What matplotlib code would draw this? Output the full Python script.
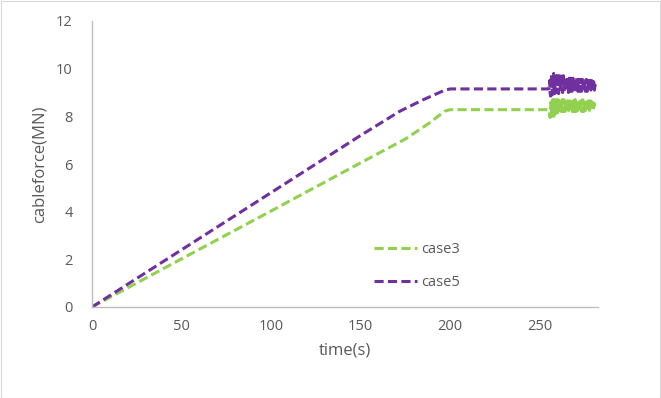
import matplotlib
matplotlib.use("Agg")
import matplotlib.pyplot as plt
from matplotlib.patches import Rectangle

plt.rcParams['font.family'] = ['Open Sans', 'DejaVu Sans']

# ramp + plateau knots
t3 = [0, 50, 100, 150, 175, 188, 197, 200, 255]
f3 = [0, 2.02, 4.03, 6.05, 7.05, 7.7, 8.22, 8.28, 8.28]
t5 = [0, 50, 100, 150, 172, 185, 197, 200, 255]
f5 = [0, 2.4, 4.8, 7.2, 8.22, 8.7, 9.1, 9.15, 9.15]

# oscillating tail (255.25 .. 281 s, every 0.25 s)
t_tail = [255.25, 255.5, 255.75, 256.0, 256.25, 256.5, 256.75, 257.0, 257.25, 257.5,
          257.75, 258.0, 258.25, 258.5, 258.75, 259.0, 259.25, 259.5, 259.75, 260.0,
          260.25, 260.5, 260.75, 261.0, 261.25, 261.5, 261.75, 262.0, 262.25, 262.5,
          262.75, 263.0, 263.25, 263.5, 263.75, 264.0, 264.25, 264.5, 264.75, 265.0,
          265.25, 265.5, 265.75, 266.0, 266.25, 266.5, 266.75, 267.0, 267.25, 267.5,
          267.75, 268.0, 268.25, 268.5, 268.75, 269.0, 269.25, 269.5, 269.75, 270.0,
          270.25, 270.5, 270.75, 271.0, 271.25, 271.5, 271.75, 272.0, 272.25, 272.5,
          272.75, 273.0, 273.25, 273.5, 273.75, 274.0, 274.25, 274.5, 274.75, 275.0,
          275.25, 275.5, 275.75, 276.0, 276.25, 276.5, 276.75, 277.0, 277.25, 277.5,
          277.75, 278.0, 278.25, 278.5, 278.75, 279.0, 279.25, 279.5, 279.75, 280.0,
          280.25, 280.5, 280.75, 281.0]
f3_tail = [8.25, 8.1, 7.95, 8.3, 8.6, 8.2, 7.95, 8.15, 8.7, 8.45,
           8.0, 8.2, 8.7, 8.6, 8.1, 8.2, 8.65, 8.7, 8.2, 8.15,
           8.6, 8.75, 8.3, 8.15, 8.5, 8.7, 8.35, 8.2, 8.45, 8.7,
           8.45, 8.2, 8.4, 8.7, 8.5, 8.2, 8.35, 8.65, 8.6, 8.2,
           8.3, 8.65, 8.6, 8.25, 8.25, 8.6, 8.65, 8.3, 8.2, 8.55,
           8.7, 8.35, 8.2, 8.45, 8.65, 8.45, 8.2, 8.4, 8.7, 8.5,
           8.2, 8.35, 8.65, 8.55, 8.25, 8.3, 8.6, 8.6, 8.25, 8.25,
           8.6, 8.65, 8.3, 8.2, 8.5, 8.7, 8.4, 8.2, 8.4, 8.65,
           8.5, 8.25, 8.3, 8.6, 8.6, 8.3, 8.25, 8.55, 8.65, 8.35,
           8.25, 8.45, 8.65, 8.45, 8.25, 8.35, 8.6, 8.55, 8.3, 8.3,
           8.55, 8.5, 8.35, 8.4]
f5_tail = [9.2, 9.5, 9.0, 8.85, 9.4, 9.75, 9.3, 8.9, 9.1, 9.7,
           9.8, 9.2, 8.95, 9.3, 9.75, 9.6, 9.0, 9.05, 9.65, 9.8,
           9.3, 8.95, 9.2, 9.7, 9.6, 9.05, 9.1, 9.6, 9.75, 9.2,
           9.0, 9.3, 9.7, 9.5, 9.05, 9.15, 9.65, 9.6, 9.1, 9.05,
           9.5, 9.65, 9.2, 9.0, 9.4, 9.6, 9.3, 9.05, 9.3, 9.6,
           9.45, 9.05, 9.2, 9.6, 9.5, 9.1, 9.1, 9.55, 9.55, 9.1,
           9.05, 9.5, 9.6, 9.2, 9.05, 9.4, 9.55, 9.3, 9.05, 9.3,
           9.55, 9.4, 9.05, 9.2, 9.55, 9.45, 9.1, 9.1, 9.5, 9.5,
           9.1, 9.05, 9.45, 9.55, 9.2, 9.05, 9.35, 9.5, 9.3, 9.05,
           9.3, 9.5, 9.4, 9.1, 9.2, 9.5, 9.45, 9.1, 9.15, 9.45,
           9.4, 9.1, 9.25, 9.35]

xticks = [0, 50, 100, 150, 200, 250]
yticks = [0, 2, 4, 6, 8, 10, 12]

green = '#92D050'
purple = '#7030A0'
tick_col = '#595959'
spine_col = '#BFBFBF'

fig = plt.figure(figsize=(6.61, 3.98), dpi=100)
fig.patches.append(Rectangle((0.5/661, 0.5/398), 1 - 1.5/661, 1 - 1.5/398,
                             transform=fig.transFigure, fill=False,
                             edgecolor='#D9D9D9', linewidth=0.8))
ax = fig.add_axes([92/661, 1 - 307/398, (598 - 92)/661, (307 - 21)/398])

lw = 2.2
dash = (3, 1.4)
ax.plot(t3 + t_tail, f3 + f3_tail, color=green, lw=lw, dashes=dash, label='case3')
ax.plot(t5 + t_tail, f5 + f5_tail, color=purple, lw=lw, dashes=dash, label='case5')

ax.set_xlim(0, 282.5)
ax.set_ylim(0, 12)
ax.set_xticks(xticks)
ax.set_yticks(yticks)
for s in ['top', 'right']:
    ax.spines[s].set_visible(False)
for s in ['left', 'bottom']:
    ax.spines[s].set_color(spine_col)
    ax.spines[s].set_linewidth(1.0)
ax.tick_params(axis='both', length=0, labelsize=10.5, colors=tick_col)
ax.tick_params(axis='y', pad=14)
ax.tick_params(axis='x', pad=9)

ax.set_xlabel('time(s)', fontsize=12, color=tick_col, labelpad=6)
ax.set_ylabel('cableforce(MN)', fontsize=12, color=tick_col, labelpad=6)

leg = ax.legend(loc='upper left', bbox_to_anchor=(275/506, 1 - 214/286),
                frameon=False, fontsize=10.5, labelspacing=1.2,
                handlelength=2.9, handletextpad=0.3, borderpad=0)
for txt in leg.get_texts():
    txt.set_color(tick_col)

fig.savefig('out.png', dpi=100)
